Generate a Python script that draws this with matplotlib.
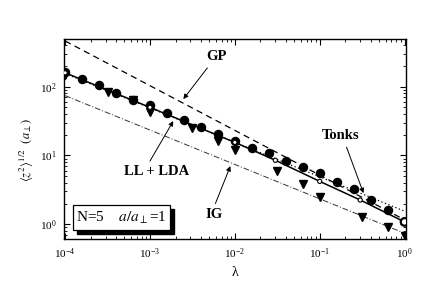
import matplotlib
matplotlib.use("Agg")
import matplotlib.pyplot as plt
from matplotlib.patches import Rectangle
from matplotlib.ticker import LogLocator, NullFormatter

# filled circles (Monte Carlo)
mc_lam = [1e-4, 1.58e-4, 2.51e-4, 3.98e-4, 6.31e-4, 1e-3, 1.58e-3, 2.51e-3, 3.98e-3, 6.31e-3,
          1e-2, 1.58e-2, 2.51e-2, 3.98e-2, 6.31e-2, 0.1, 0.158, 0.251, 0.398, 0.631]
mc_val = [165, 128, 105, 80, 64, 54, 41, 33, 26, 20.4,
          16.3, 12.9, 10.7, 8.3, 6.8, 5.5, 4.1, 3.2, 2.23, 1.6]

# filled down triangles
tri_lam = [1e-4, 3.16e-4, 6.31e-4, 1e-3, 3.16e-3, 6.31e-3, 1e-2, 3.16e-2, 6.31e-2, 0.1, 0.316, 0.631, 1.0]
tri_val = [146, 84, 64, 43, 24.7, 16.2, 11.9, 6.0, 3.9, 2.5, 1.28, 0.9, 0.67]

# LL + LDA (solid line with open circles)
ll_lam = [1e-4, 1e-3, 1e-2, 3e-2, 0.1, 0.3, 1.0]
ll_val = [159, 50, 15.5, 8.5, 4.2, 2.25, 1.08]

# limiting curves
gp_lam = [1e-4, 1.0]
gp_val = [461, 1.16]
tonks_lam = [1e-4, 1.0]
tonks_val = [155, 1.55]
ig_lam = [1e-4, 1.0]
ig_val = [74, 0.74]

plt.rcParams["font.family"] = ["Liberation Serif", "DejaVu Serif"]
plt.rcParams["mathtext.fontset"] = "stix"

fig = plt.figure(figsize=(4.48, 2.83), dpi=100)
ax = fig.add_axes([0.1429, 0.1555, 0.7634, 0.7067])

ax.plot(gp_lam, gp_val, color="black", lw=0.9, linestyle=(0, (5, 3.5)))
ax.plot(tonks_lam, tonks_val, color="black", lw=0.9, linestyle=(0, (1, 2)))
ax.plot(ig_lam, ig_val, color="#333333", lw=0.7, linestyle=(0, (6, 2, 1, 2)))
ax.plot(ll_lam, ll_val, color="black", lw=1.1)

ax.plot(mc_lam, mc_val, "o", color="black", ms=5.8, ls="none")
ax.plot(tri_lam, tri_val, "v", color="black", ms=6, ls="none")
ax.scatter(ll_lam, ll_val, s=[9] * 6 + [30], facecolor="white", edgecolor="black",
           linewidths=[0.8] * 6 + [1.6], zorder=5)

ax.set_xscale("log")
ax.set_yscale("log")
ax.set_xlim(0.97e-4, 1.04)
ax.set_ylim(0.61, 493)

ax.xaxis.set_minor_locator(LogLocator(base=10, subs=range(2, 10), numticks=20))
ax.yaxis.set_minor_locator(LogLocator(base=10, subs=range(2, 10), numticks=20))
ax.xaxis.set_minor_formatter(NullFormatter())
ax.yaxis.set_minor_formatter(NullFormatter())
ax.tick_params(which="both", direction="in", top=True, right=True, labelsize=8)
ax.tick_params(which="major", length=4, width=0.8, pad=5)
ax.tick_params(which="minor", length=2.2, width=0.6)
for s in ax.spines.values():
    s.set_linewidth(1.0)

# curve labels
bold = dict(fontsize=10.5, fontweight="bold", ha="center", va="center")
arrow = dict(arrowstyle="-|>", lw=0.7, color="black", mutation_scale=7, shrinkA=0, shrinkB=0)
ax.text(6.05e-3, 270, "GP", **bold)
ax.annotate("", xy=(2.47e-3, 66), xytext=(4.74e-3, 187), arrowprops=arrow)
ax.text(0.176, 19.8, "Tonks", **bold)
ax.annotate("", xy=(0.328, 2.83), xytext=(0.207, 13.2), arrowprops=arrow)
ax.text(1.19e-3, 5.9, "LL + LDA", **bold)
ax.annotate("", xy=(1.88e-3, 31.6), xytext=(1.0e-3, 8.3), arrowprops=arrow)
ax.text(5.7e-3, 1.4, "IG", **bold)
ax.annotate("", xy=(8.85e-3, 7.0), xytext=(5.9e-3, 2.0), arrowprops=arrow)

# parameter box with shadow
ax.add_patch(Rectangle((0.037, 0.027), 0.285, 0.125, transform=ax.transAxes,
                       facecolor="black", edgecolor="black", zorder=6))
ax.add_patch(Rectangle((0.0254, 0.045), 0.285, 0.125, transform=ax.transAxes,
                       facecolor="white", edgecolor="black", lw=0.9, zorder=7))
ax.text(0.168, 0.107, r"N=5    $a/a_{\perp}$=1", transform=ax.transAxes,
        fontsize=11, ha="center", va="center", zorder=8)

fig.text(235 / 448, 1 - 272 / 283, "λ", fontsize=10, ha="center", va="center")
fig.text(27 / 448, 1 - 150 / 283, r"$\langle z^2\rangle^{1/2}$  $(a_{\perp})$",
         fontsize=9, rotation=90, ha="center", va="center")

fig.savefig("out.png", dpi=100)
